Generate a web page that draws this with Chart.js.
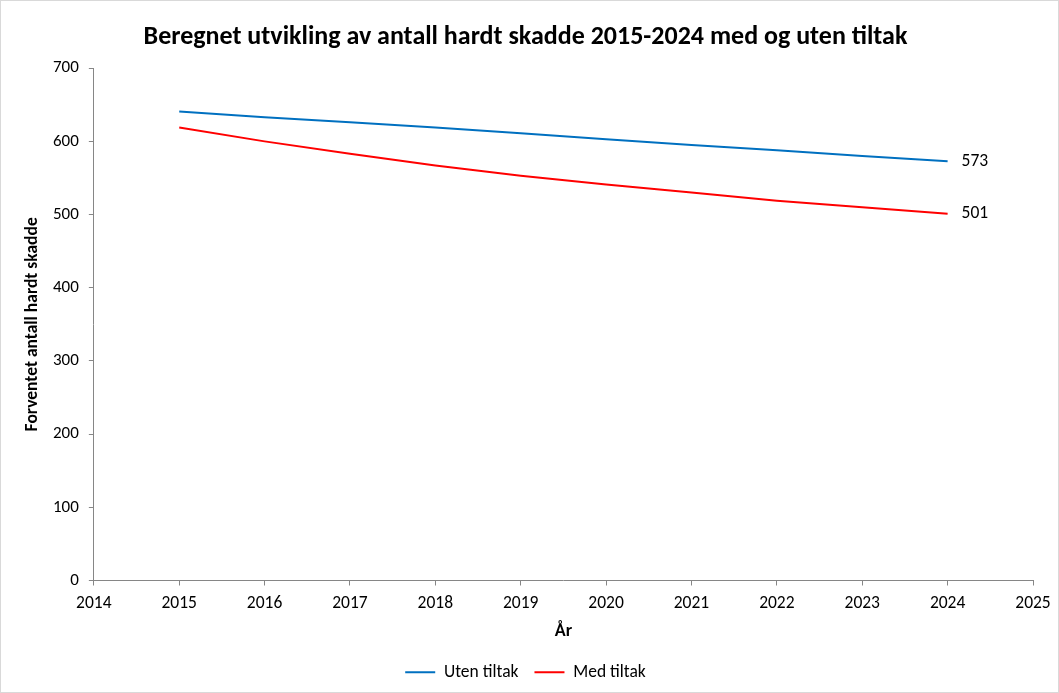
<!DOCTYPE html>
<html>
<head>
<meta charset="utf-8">
<script src="https://cdn.jsdelivr.net/npm/chart.js@4/dist/chart.umd.min.js"></script>
<style>
  html, body { margin: 0; padding: 0; background: #fff; }
  #wrap { width: 1059px; height: 693px; }
</style>
</head>
<body>
<div id="wrap"><canvas id="myChart" width="1059" height="693"></canvas></div>
<script>
"use strict";
var years = [2015, 2016, 2017, 2018, 2019, 2020, 2021, 2022, 2023, 2024];
var utenTiltak = [641, 633, 626, 619, 611, 603, 595, 588, 580, 573];
var medTiltak = [619, 600, 583, 567, 553, 541, 530, 519, 510, 501];
var seriesNames = ["Uten tiltak", "Med tiltak"];
var seriesColors = ["#0070C0", "#FF0000"];

var fontFam = "Calibri, Carlito, 'Liberation Sans', Arial, sans-serif";

function toPoints(vals) {
    var out = [];
    for (var i = 0; i <= years.length - 1; i++) {
        out.push({ x: years[i], y: vals[i] });
    }
    return out;
}

// frame + white background
var framePlugin = {
    id: 'frame',
    beforeDraw: function (chart) {
        var c = chart.ctx;
        c.save();
        c.fillStyle = '#fff';
        c.fillRect(0, 0, chart.width, chart.height);
        c.strokeStyle = '#d9d9d9';
        c.lineWidth = 1;
        c.strokeRect(0.5, 0.5, chart.width - 1, chart.height - 1);
        c.restore();
    }
};

// value label at the last point of each line
var endLabels = {
    id: 'endLabels',
    afterDatasetsDraw: function (chart) {
        var c = chart.ctx;
        c.save();
        c.font = "17.5px " + fontFam;
        c.fillStyle = '#000';
        c.textBaseline = 'middle';
        c.textAlign = 'left';
        chart.data.datasets.forEach(function (ds, i) {
            var meta = chart.getDatasetMeta(i);
            var last = meta.data[meta.data.length - 1];
            c.fillText(String(ds.data[ds.data.length - 1].y), last.x + 14, last.y);
        });
        c.restore();
    }
};

var ctx = document.getElementById('myChart').getContext('2d');
var chart = new Chart(ctx, {
    type: 'line',
    data: {
        datasets: [
            { label: seriesNames[0], data: toPoints(utenTiltak), borderColor: seriesColors[0], backgroundColor: seriesColors[0], borderWidth: 2, pointRadius: 0, tension: 0 },
            { label: seriesNames[1], data: toPoints(medTiltak), borderColor: seriesColors[1], backgroundColor: seriesColors[1], borderWidth: 2, pointRadius: 0, tension: 0 }
        ]
    },
    options: {
        responsive: false,
        animation: false,
        layout: { padding: { left: 18, right: 26, top: 6, bottom: 2 } },
        plugins: {
            title: {
                display: true,
                text: 'Beregnet utvikling av antall hardt skadde 2015-2024 med og uten tiltak',
                color: '#000',
                font: { family: fontFam, size: 26, weight: 'bold' },
                padding: { top: 16, bottom: 15 }
            },
            legend: {
                position: 'bottom',
                labels: {
                    usePointStyle: true,
                    pointStyle: 'line',
                    pointStyleWidth: 30,
                    color: '#000',
                    font: { family: fontFam, size: 17.5 },
                    padding: 16
                }
            },
            tooltip: { enabled: false }
        },
        scales: {
            x: {
                type: 'linear',
                min: 2014,
                max: 2025,
                ticks: {
                    stepSize: 1,
                    color: '#000',
                    font: { family: fontFam, size: 17.5 },
                    callback: function (v) { return String(v); },
                    padding: 8,
                    maxRotation: 0
                },
                grid: { drawOnChartArea: false, drawTicks: true, tickLength: 5, color: '#868686' },
                border: { color: '#868686' },
                title: {
                    display: true,
                    text: 'År',
                    color: '#000',
                    font: { family: fontFam, size: 18, weight: 'bold', lineHeight: 1 },
                    padding: { top: 0, bottom: 7 }
                }
            },
            y: {
                min: 0,
                max: 700,
                ticks: {
                    stepSize: 100,
                    color: '#000',
                    font: { family: fontFam, size: 17 },
                    padding: 10
                },
                grid: { drawOnChartArea: false, drawTicks: true, tickLength: 5, color: '#868686' },
                border: { color: '#868686' },
                title: {
                    display: true,
                    text: 'Forventet antall hardt skadde',
                    color: '#000',
                    font: { family: fontFam, size: 17.5, weight: 'bold' },
                    padding: { top: 4, bottom: 0 }
                }
            }
        }
    },
    plugins: [framePlugin, endLabels]
});
</script>
</body>
</html>
